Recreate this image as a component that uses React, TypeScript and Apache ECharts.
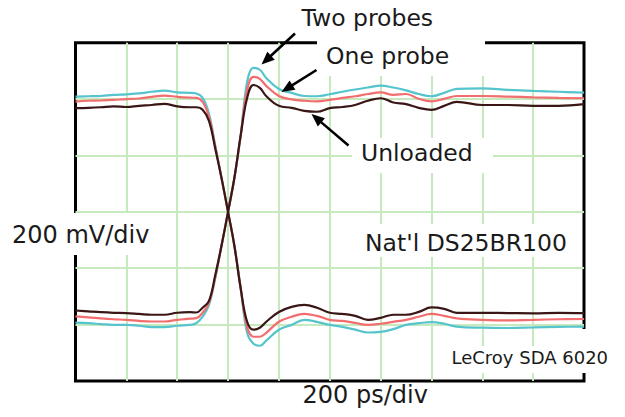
import React, { useEffect, useRef } from "react";
import * as echarts from "echarts";

// time axis in ps (10 div x 200 ps)
const TIME_PS = [0, 50, 100, 150, 200, 250, 300, 350, 400, 450, 475, 500, 525, 550, 575, 600, 625, 650, 675, 700, 725, 750, 800, 850, 900, 950, 1000, 1050, 1100, 1150, 1200, 1250, 1300, 1350, 1400, 1450, 1500, 1600, 1700, 1800, 1900, 2000];

// voltages in mV (6 div x 200 mV)
const twoProbesFall = [409, 410, 411, 415, 417, 420, 426, 430, 424, 422, 420, 404, 348, 234, 117, 0, -121, -273, -429, -468, -475, -457, -418, -401, -383, -390, -401, -408, -418, -428, -426, -416, -401, -395, -391, -397, -407, -411, -412, -410, -408, -407];
const twoProbesRise = [-393, -395, -398, -401, -401, -404, -409, -409, -404, -401, -395, -372, -330, -234, -117, 0, 121, 273, 461, 511, 504, 475, 436, 422, 411, 410, 417, 426, 434, 441, 448, 441, 431, 418, 410, 422, 436, 438, 433, 429, 426, 423];
const oneProbeFall = [391, 394, 395, 397, 400, 402, 408, 412, 408, 405, 404, 390, 337, 230, 117, 0, -121, -273, -408, -443, -443, -429, -390, -372, -362, -369, -383, -387, -394, -401, -397, -390, -383, -372, -362, -369, -378, -383, -385, -383, -381, -380];
const oneProbeRise = [-371, -374, -378, -381, -383, -387, -389, -389, -383, -379, -377, -358, -323, -230, -117, 0, 121, 273, 433, 479, 472, 447, 411, 399, 394, 392, 397, 404, 410, 418, 424, 415, 418, 401, 392, 401, 411, 411, 409, 406, 404, 403];
const unloadedFall = [368, 369, 371, 374, 372, 376, 379, 383, 374, 371, 371, 362, 323, 223, 117, 0, -121, -273, -390, -418, -411, -390, -355, -337, -330, -340, -358, -362, -369, -383, -376, -365, -365, -355, -339, -344, -358, -358, -359, -360, -358, -359];
const unloadedRise = [-350, -353, -356, -358, -359, -362, -365, -365, -358, -356, -357, -340, -316, -223, -117, 0, 121, 273, 404, 450, 440, 411, 376, 369, 358, 355, 368, 372, 379, 394, 403, 388, 382, 369, 362, 376, 390, 379, 379, 376, 376, 382];

const LABEL_TWO = "Two probes";
const LABEL_ONE = "One probe";
const LABEL_UNLOADED = "Unloaded";
const LABEL_DEVICE = "Nat'l DS25BR100";
const LABEL_VDIV = "200 mV/div";
const LABEL_TDIV = "200 ps/div";
const LABEL_SCOPE = "LeCroy SDA 6020";

const CYAN = "#55c4cc";
const RED = "#f26d6d";
const DARK = "#3a1616";
const GRID_GREEN = "#c6e9be";
const FONT = '"DejaVu Sans", Verdana, sans-serif';

function toPairs(vals: number[]) {
  return TIME_PS.map((t, i) => [t, vals[i]]);
}

function arrow(x1: number, y1: number, x2: number, y2: number) {
  const dx = x2 - x1;
  const dy = y2 - y1;
  const len = Math.sqrt(dx * dx + dy * dy);
  const ux = dx / len;
  const uy = dy / len;
  const L = 13;
  const W = 5.5;
  const bx = x2 - ux * L;
  const by = y2 - uy * L;
  const nx = -uy;
  const ny = ux;
  return [
    {
      type: "line",
      z: 30,
      shape: { x1, y1, x2: bx + ux * 2, y2: by + uy * 2 },
      style: { stroke: "#000", lineWidth: 2.6 },
    },
    {
      type: "polygon",
      z: 30,
      shape: {
        points: [
          [x2, y2],
          [bx + nx * W, by + ny * W],
          [bx - nx * W, by - ny * W],
        ],
      },
      style: { fill: "#000" },
    },
  ];
}

function whiteBox(x: number, y: number, w: number, h: number) {
  return {
    type: "rect",
    z: 10,
    shape: { x, y, width: w, height: h },
    style: { fill: "#fff" },
  };
}

function label(text: string, x: number, y: number, size: number) {
  return {
    type: "text",
    z: 20,
    x,
    y,
    style: {
      text,
      fill: "#1a1a1a",
      fontSize: size,
      fontFamily: FONT,
      align: "left",
      verticalAlign: "middle",
    },
  };
}

function line(name: string, vals: number[], color: string, z: number) {
  return {
    type: "line",
    name,
    data: toPairs(vals),
    showSymbol: false,
    symbol: "none",
    smooth: 0.4,
    z,
    lineStyle: { color, width: 2.2 },
  };
}

export default function App() {
  const ref = useRef<HTMLDivElement>(null);

  useEffect(() => {
    if (!ref.current) return;
    const chart = echarts.init(ref.current, null, { renderer: "svg" });
    chart.setOption({
      animation: false,
      backgroundColor: "#fff",
      grid: {
        left: 75.5,
        top: 42.7,
        width: 508.5,
        height: 338.3,
        show: true,
        borderColor: "#000",
        borderWidth: 3,
        backgroundColor: "transparent",
      },
      xAxis: {
        type: "value",
        min: 0,
        max: 2000,
        interval: 200,
        axisLine: { show: false },
        axisTick: { show: false },
        axisLabel: { show: false },
        splitLine: {
          show: true,
          showMinLine: false,
          showMaxLine: false,
          lineStyle: { color: GRID_GREEN, width: 2 },
        },
      },
      yAxis: {
        type: "value",
        min: -600,
        max: 600,
        interval: 200,
        axisLine: { show: false },
        axisTick: { show: false },
        axisLabel: { show: false },
        splitLine: {
          show: true,
          showMinLine: false,
          showMaxLine: false,
          lineStyle: { color: GRID_GREEN, width: 2 },
        },
      },
      series: [
        line("Two probes", twoProbesFall, CYAN, 2),
        line("Two probes", twoProbesRise, CYAN, 2),
        line("One probe", oneProbeFall, RED, 3),
        line("One probe", oneProbeRise, RED, 3),
        line("Unloaded", unloadedFall, DARK, 4),
        line("Unloaded", unloadedRise, DARK, 4),
      ],
      graphic: [
        whiteBox(317, 0, 168, 76),
        whiteBox(352, 138, 141, 35),
        whiteBox(355, 224, 224, 33),
        whiteBox(0, 213, 157, 42),
        whiteBox(445, 346, 175, 27),
        whiteBox(578, 329, 14, 18),
        label(LABEL_TWO, 301.5, 18, 23.5),
        label(LABEL_ONE, 326, 56, 23.5),
        label(LABEL_UNLOADED, 361, 153, 23.5),
        label(LABEL_DEVICE, 365, 242.5, 23.5),
        label(LABEL_VDIV, 12, 235, 24),
        label(LABEL_TDIV, 302.5, 394.5, 24),
        label(LABEL_SCOPE, 451.5, 357.8, 18),
        ...arrow(295, 33.5, 261.5, 64.5),
        ...arrow(316.5, 70, 281.5, 92),
        ...arrow(348.5, 145.5, 311.5, 114),
      ],
    });
    return () => chart.dispose();
  }, []);

  return (
    <div
      ref={ref}
      style={{ position: "fixed", left: 0, top: 0, width: 625, height: 417, background: "#fff" }}
    />
  );
}
